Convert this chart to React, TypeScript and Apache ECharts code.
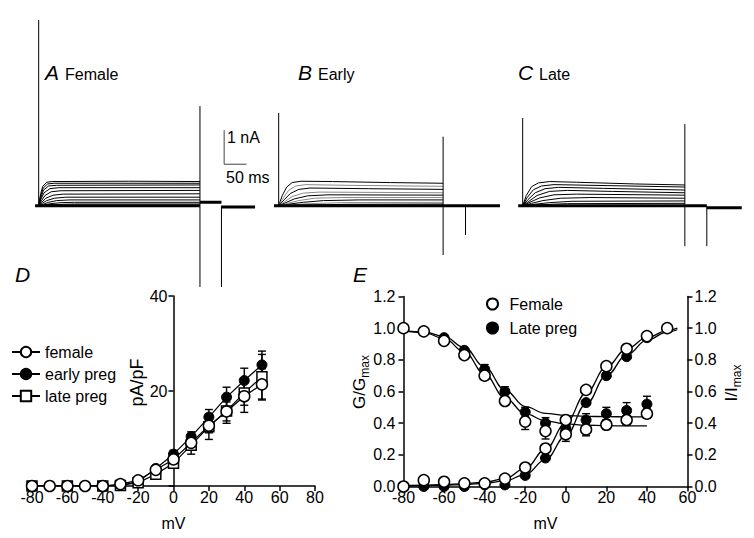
import React, { useEffect, useRef } from 'react';
import * as echarts from 'echarts';

const FONT = '"Liberation Sans", Arial, Helvetica, sans-serif';

// ---------- Panels A-C: current traces (t in ms, I in nA) ----------
const tracesA: number[][][] = [
  [[0, 0], [4, 0.32], [9, 0.57], [18, 0.69], [30, 0.71], [200, 0.72], [360, 0.71]],
  [[0, 0], [4, 0.28], [10, 0.52], [20, 0.64], [35, 0.66], [360, 0.66]],
  [[0, 0], [5, 0.24], [11, 0.46], [22, 0.58], [40, 0.6], [360, 0.61]],
  [[0, 0], [5, 0.19], [12, 0.38], [25, 0.5], [45, 0.53], [360, 0.53]],
  [[0, 0], [6, 0.14], [14, 0.3], [28, 0.41], [50, 0.44], [360, 0.45]],
  [[0, 0], [7, 0.1], [16, 0.22], [32, 0.31], [55, 0.34], [360, 0.35]],
  [[0, 0], [8, 0.07], [18, 0.15], [35, 0.22], [60, 0.25], [360, 0.25]],
  [[0, 0], [10, 0.04], [22, 0.1], [40, 0.15], [70, 0.17], [360, 0.17]],
  [[0, 0], [12, 0.02], [26, 0.06], [50, 0.09], [80, 0.1], [360, 0.1]],
  [[0, 0], [30, 0.03], [80, 0.05], [360, 0.05]],
];
const spikesA: number[][][] = [
  [[0, 0], [0, 5.46]],
  [[360, 2.93], [360, -2.39]],
  [[408, 0], [408, -2.39]],
];
const baseA: number[][][] = [
  [[-8, 0], [360, 0]],
  [[360, 0.1], [408, 0.1]],
  [[408, -0.04], [483, -0.04]],
];
const scaleBar: number[][] = [[414, 2.22], [414, 1.22], [464, 1.22]];

const tracesB: number[][][] = [
  [[0, 0], [8, 0.3], [18, 0.55], [30, 0.68], [50, 0.72], [120, 0.71], [250, 0.68], [367, 0.66]],
  [[0, 0], [10, 0.22], [22, 0.45], [38, 0.58], [60, 0.62], [150, 0.6], [367, 0.57]],
  [[0, 0], [12, 0.17], [26, 0.36], [45, 0.48], [70, 0.52], [200, 0.5], [367, 0.48]],
  [[0, 0], [14, 0.12], [30, 0.27], [55, 0.37], [90, 0.4], [367, 0.38]],
  [[0, 0], [16, 0.09], [35, 0.2], [65, 0.29], [110, 0.32], [367, 0.31]],
  [[0, 0], [20, 0.07], [45, 0.15], [80, 0.22], [140, 0.24], [367, 0.24]],
  [[0, 0], [25, 0.05], [55, 0.1], [100, 0.15], [180, 0.17], [367, 0.17]],
  [[0, 0], [30, 0.03], [70, 0.06], [140, 0.09], [367, 0.1]],
  [[0, 0], [60, 0.02], [150, 0.04], [367, 0.05]],
];
const spikesB: number[][][] = [
  [[0, 0], [0, 2.73]],
  [[367, 2.03], [367, -1.45]],
  [[417, 0], [417, -0.86]],
];
const baseB: number[][][] = [[[-10.5, 0], [494, 0]]];

const tracesC: number[][][] = [
  [[0, 0], [8, 0.3], [20, 0.56], [35, 0.67], [60, 0.71], [120, 0.69], [250, 0.64], [362, 0.61]],
  [[0, 0], [10, 0.24], [24, 0.47], [42, 0.58], [70, 0.62], [150, 0.6], [362, 0.55]],
  [[0, 0], [12, 0.18], [28, 0.38], [50, 0.5], [80, 0.54], [180, 0.51], [362, 0.46]],
  [[0, 0], [14, 0.13], [32, 0.3], [60, 0.42], [100, 0.45], [200, 0.42], [362, 0.38]],
  [[0, 0], [16, 0.1], [38, 0.23], [70, 0.32], [120, 0.34], [362, 0.31]],
  [[0, 0], [20, 0.07], [45, 0.15], [85, 0.22], [150, 0.24], [362, 0.22]],
  [[0, 0], [25, 0.04], [60, 0.09], [110, 0.13], [362, 0.14]],
  [[0, 0], [40, 0.03], [100, 0.06], [362, 0.07]],
];
const spikesC: number[][][] = [
  [[0, 0], [0, 2.58]],
  [[362, 2.4], [362, -1.19]],
  [[411, 0], [411, -1.19]],
];
const baseC: number[][][] = [
  [[-10, 0], [411, 0]],
  [[411, -0.06], [489, -0.06]],
];

// ---------- Panel D: I-V (pA/pF) ----------
const femaleV = [-80, -70, -60, -50, -40, -30, -20, -10, 0, 10, 20, 30, 40, 50];
const femaleIV = [0, 0, 0, 0, 0, 0.4, 1.2, 3.4, 5.6, 9.1, 12.7, 15.7, 18.9, 21.4];
const femaleIVErr = [0, 0, 0, 0, 0, 0, 0, 0.3, 0.6, 1.0, 1.5, 2.0, 3.4, 3.3];
const pregV = [-80, -60, -40, -30, -20, -10, 0, 10, 20, 30, 40, 50];
const earlyIV = [0, 0, 0, 0.2, 0.9, 3.7, 6.7, 10.4, 14.5, 18.7, 22.2, 25.5];
const earlyIVErr = [0, 0, 0, 0, 0, 0.3, 0.8, 1.0, 1.6, 2.1, 2.6, 2.9];
const lateIV = [0, 0, 0, 0.1, 0.7, 2.5, 4.8, 8.6, 12.5, 15.8, 19.6, 23.0];
const lateIVErr = [0, 0, 0, 0, 0, 0.5, 0.8, 1.9, 2.7, 2.6, 2.6, 4.7];
const ivTicks = [-80, -60, -40, -20, 0, 20, 40, 60, 80];

// ---------- Panel E: activation / inactivation ----------
const actV = [-80, -70, -60, -50, -40, -30, -20, -10, 0, 10, 20, 30, 40, 50];
const femaleAct = [0, 0.04, 0.03, 0.02, 0.02, 0.05, 0.12, 0.24, 0.33, 0.61, 0.76, 0.87, 0.95, 1.0];
const femaleActErr = [0, 0, 0, 0, 0, 0, 0.01, 0.02, 0.045, 0.01, 0, 0, 0, 0];
const lateActV = [-80, -70, -60, -50, -40, -30, -20, -10, 0, 10, 20, 30, 40];
const lateAct = [0, 0, 0, 0, 0.01, 0.01, 0.07, 0.18, 0.35, 0.53, 0.7, 0.82, 0.94];
const inactV = [-80, -70, -60, -50, -40, -30, -20, -10, 0, 10, 20, 30, 40];
const femaleInact = [1.0, 0.98, 0.92, 0.83, 0.7, 0.54, 0.41, 0.35, 0.42, 0.36, 0.39, 0.42, 0.46];
const femaleInactErr = [0, 0, 0, 0, 0, 0, 0.05, 0.05, 0.02, 0.04, 0.03, 0.03, 0.03];
const lateInact = [1.0, 0.98, 0.94, 0.86, 0.74, 0.6, 0.47, 0.4, 0.37, 0.42, 0.46, 0.48, 0.52];
const lateInactErr = [0, 0, 0, 0, 0.03, 0.03, 0.03, 0.035, 0.02, 0.04, 0.04, 0.05, 0.05];

const actFitV = [-80, -70, -60, -50, -40, -30, -20, -10, 0, 10, 20, 30, 40, 50, 55];
const femaleActFit = [0.005, 0.008, 0.012, 0.018, 0.027, 0.05, 0.115, 0.235, 0.4, 0.59, 0.755, 0.87, 0.94, 0.985, 1.0];
const lateActFit = [0.003, 0.005, 0.008, 0.012, 0.02, 0.035, 0.075, 0.17, 0.32, 0.52, 0.7, 0.83, 0.925, 0.975, 0.99];
const inactFitV = [-80, -70, -60, -50, -40, -30, -20, -10, 0, 10, 20, 30, 40];
const femaleInactFit = [0.985, 0.972, 0.935, 0.85, 0.71, 0.56, 0.46, 0.415, 0.395, 0.387, 0.384, 0.383, 0.383];
const lateInactFit = [0.985, 0.977, 0.948, 0.878, 0.755, 0.61, 0.505, 0.462, 0.448, 0.443, 0.441, 0.44, 0.44];

const zip = (xs: number[], ys: number[]) => xs.map((x, i) => [x, ys[i]]);
const zip3 = (xs: number[], ys: number[], es: number[]) =>
  xs.map((x, i) => [x, ys[i], es[i]]).filter((d) => d[2] > 0);

const errRender = (cap: number) => (params: any, api: any) => {
  const x = api.value(0);
  const y = api.value(1);
  const e = api.value(2);
  const t = api.coord([x, y + e]);
  const b = api.coord([x, y - e]);
  const st = { stroke: '#000', lineWidth: 1.4 };
  return {
    type: 'group',
    children: [
      { type: 'line', shape: { x1: t[0], y1: t[1], x2: b[0], y2: b[1] }, style: st },
      { type: 'line', shape: { x1: t[0] - cap, y1: t[1], x2: t[0] + cap, y2: t[1] }, style: st },
      { type: 'line', shape: { x1: b[0] - cap, y1: b[1], x2: b[0] + cap, y2: b[1] }, style: st },
    ],
  };
};

const App: React.FC = () => {
  const ref = useRef<HTMLDivElement>(null);
  useEffect(() => {
    document.body.style.margin = '0';
    const chart = echarts.init(ref.current!, null, { renderer: 'svg' });

    const traceSeries: any[] = [];
    const addLines = (sets: number[][][], idx: number, width: number, colorFn?: (i: number) => string) => {
      sets.forEach((d, i) => {
        traceSeries.push({
          type: 'line', xAxisIndex: idx, yAxisIndex: idx, data: d, symbol: 'none', silent: true,
          lineStyle: { color: colorFn ? colorFn(i) : '#000', width }, z: 2,
        });
      });
    };
    addLines(tracesA, 0, 1);
    addLines(baseA, 0, 3);
    addLines(spikesA, 0, 1);
    addLines([scaleBar], 0, 1, () => '#444');
    addLines(tracesB, 1, 1, (i) => (i % 2 === 1 ? '#8a8a8a' : '#000'));
    addLines(baseB, 1, 3);
    addLines(spikesB, 1, 1);
    addLines(tracesC, 2, 1);
    addLines(baseC, 2, 3);
    addLines(spikesC, 2, 1);

    const axisCommon = {
      axisLine: { lineStyle: { color: '#000', width: 1.5 } },
      axisTick: { length: 5, lineStyle: { color: '#000', width: 1.5 } },
      splitLine: { show: false },
      axisLabel: { color: '#000', fontSize: 16, fontFamily: FONT },
    };
    const hiddenY = (i: number) => ({ type: 'value', gridIndex: i, min: -3, max: 6, show: false });

    const openItem = { color: '#fff', borderColor: '#000', borderWidth: 1.5, opacity: 1 };
    const filledItem = { color: '#000', borderColor: '#000', borderWidth: 1, opacity: 1 };

    const option: any = {
      animation: false,
      backgroundColor: '#fff',
      textStyle: { fontFamily: FONT },
      grid: [
        { left: 34.2, top: 1.7, width: 224, height: 306 },
        { left: 274.2, top: 1.7, width: 228.5, height: 306 },
        { left: 518.2, top: 1.7, width: 224, height: 306 },
        { left: 32, top: 296, width: 283, height: 190 },
        { left: 403.5, top: 296.5, width: 284, height: 190 },
      ],
      xAxis: [
        { type: 'value', gridIndex: 0, min: -10, max: 490, show: false },
        { type: 'value', gridIndex: 1, min: -10, max: 500, show: false },
        { type: 'value', gridIndex: 2, min: -10, max: 490, show: false },
        {
          type: 'value', gridIndex: 3, min: ivTicks[0], max: ivTicks[ivTicks.length - 1], interval: 20,
          ...axisCommon,
          axisLabel: { ...axisCommon.axisLabel, margin: 3 },
          name: 'mV', nameLocation: 'middle', nameGap: 29,
          nameTextStyle: { color: '#000', fontSize: 16, fontFamily: FONT },
        },
        {
          type: 'value', gridIndex: 4, min: -80, max: 60, interval: 20,
          ...axisCommon,
          axisLabel: { ...axisCommon.axisLabel, margin: 3 },
          axisLine: { ...axisCommon.axisLine, onZero: false },
          name: 'mV', nameLocation: 'middle', nameGap: 29,
          nameTextStyle: { color: '#000', fontSize: 16, fontFamily: FONT },
        },
      ],
      yAxis: [
        hiddenY(0), hiddenY(1), hiddenY(2),
        {
          type: 'value', gridIndex: 3, min: 0, max: 40, interval: 20, position: 'left', offset: -141.5,
          ...axisCommon,
          axisLine: { ...axisCommon.axisLine, onZero: false },
          axisLabel: { ...axisCommon.axisLabel, margin: 6, formatter: (v: number) => (v === 0 ? '' : String(v)) },
        },
        {
          type: 'value', gridIndex: 4, min: 0, max: 1.2, interval: 0.2, position: 'left',
          ...axisCommon,
          axisLine: { ...axisCommon.axisLine, onZero: false },
          axisLabel: { ...axisCommon.axisLabel, margin: 8, formatter: (v: number) => v.toFixed(1) },
        },
        {
          type: 'value', gridIndex: 4, min: 0, max: 1.2, interval: 0.2, position: 'right',
          ...axisCommon,
          axisLine: { ...axisCommon.axisLine, onZero: false },
          axisLabel: { ...axisCommon.axisLabel, margin: 7, formatter: (v: number) => v.toFixed(1) },
        },
      ],
      legend: [
        {
          data: ['female', 'early preg', 'late preg'],
          orient: 'vertical', left: 11, top: 344, padding: 0, itemWidth: 28, itemHeight: 13, itemGap: 6,
          textStyle: { color: '#000', fontSize: 16, fontFamily: FONT },
          selectedMode: false,
        },
        {
          data: ['Female', 'Late preg'],
          orient: 'vertical', left: 486, top: 296, padding: 0, itemWidth: 24, itemHeight: 11, itemGap: 8,
          textStyle: { color: '#000', fontSize: 16, fontFamily: FONT },
          selectedMode: false,
        },
      ],
      series: [
        ...traceSeries,
        // Panel D error bars
        { type: 'custom', xAxisIndex: 3, yAxisIndex: 3, renderItem: errRender(4), data: zip3(pregV, earlyIV, earlyIVErr), encode: { x: 0, y: 1 }, z: 3, silent: true },
        { type: 'custom', xAxisIndex: 3, yAxisIndex: 3, renderItem: errRender(4), data: zip3(pregV, lateIV, lateIVErr), encode: { x: 0, y: 1 }, z: 3, silent: true },
        { type: 'custom', xAxisIndex: 3, yAxisIndex: 3, renderItem: errRender(4), data: zip3(femaleV, femaleIV, femaleIVErr), encode: { x: 0, y: 1 }, z: 3, silent: true },
        {
          name: 'early preg', type: 'line', xAxisIndex: 3, yAxisIndex: 3, data: zip(pregV, earlyIV),
          symbol: 'circle', symbolSize: 10, itemStyle: filledItem, lineStyle: { color: '#000', width: 1.2 }, z: 4,
        },
        {
          name: 'late preg', type: 'line', xAxisIndex: 3, yAxisIndex: 3, data: zip(pregV, lateIV),
          symbol: 'rect', symbolSize: 10, itemStyle: openItem, lineStyle: { color: '#000', width: 1.2 }, z: 5,
        },
        {
          name: 'female', type: 'line', xAxisIndex: 3, yAxisIndex: 3, data: zip(femaleV, femaleIV),
          symbol: 'circle', symbolSize: 11, itemStyle: openItem, lineStyle: { color: '#000', width: 1.2 }, z: 6,
        },
        // Panel E fits
        ...[femaleActFit, lateActFit].map((f) => ({
          type: 'line', xAxisIndex: 4, yAxisIndex: 4, data: zip(actFitV, f), symbol: 'none', smooth: 0.4,
          smoothMonotone: 'x', lineStyle: { color: '#000', width: 1.3 }, z: 2, silent: true,
        })),
        ...[femaleInactFit, lateInactFit].map((f) => ({
          type: 'line', xAxisIndex: 4, yAxisIndex: 4, data: zip(inactFitV, f), symbol: 'none', smooth: 0.4,
          smoothMonotone: 'x', lineStyle: { color: '#000', width: 1.3 }, z: 2, silent: true,
        })),
        // Panel E error bars
        { type: 'custom', xAxisIndex: 4, yAxisIndex: 4, renderItem: errRender(4), data: [...zip3(inactV, lateInact, lateInactErr)], encode: { x: 0, y: 1 }, z: 3, silent: true },
        { type: 'custom', xAxisIndex: 4, yAxisIndex: 4, renderItem: errRender(4), data: [...zip3(inactV, femaleInact, femaleInactErr), ...zip3(actV, femaleAct, femaleActErr)], encode: { x: 0, y: 1 }, z: 3, silent: true },
        {
          name: 'Late preg', type: 'scatter', xAxisIndex: 4, yAxisIndex: 4,
          data: [...zip(lateActV, lateAct), ...zip(inactV, lateInact)],
          symbol: 'circle', symbolSize: 10, itemStyle: filledItem, z: 4,
        },
        {
          name: 'Female', type: 'scatter', xAxisIndex: 4, yAxisIndex: 4,
          data: [...zip(actV, femaleAct), ...zip(inactV, femaleInact)],
          symbol: 'circle', symbolSize: 11, itemStyle: openItem, z: 5,
        },
      ],
      graphic: [
        { type: 'text', x: 45, y: 72.6, style: { text: 'A', font: `italic 21px ${FONT}`, fill: '#000', verticalAlign: 'middle' } },
        { type: 'text', x: 65, y: 74.4, style: { text: 'Female', font: `16px ${FONT}`, fill: '#000', verticalAlign: 'middle' } },
        { type: 'text', x: 298, y: 72.6, style: { text: 'B', font: `italic 21px ${FONT}`, fill: '#000', verticalAlign: 'middle' } },
        { type: 'text', x: 318, y: 74.4, style: { text: 'Early', font: `16px ${FONT}`, fill: '#000', verticalAlign: 'middle' } },
        { type: 'text', x: 518, y: 72.6, style: { text: 'C', font: `italic 21px ${FONT}`, fill: '#000', verticalAlign: 'middle' } },
        { type: 'text', x: 539, y: 74.4, style: { text: 'Late', font: `16px ${FONT}`, fill: '#000', verticalAlign: 'middle' } },
        { type: 'text', x: 227, y: 137, style: { text: '1 nA', font: `16px ${FONT}`, fill: '#000', verticalAlign: 'middle' } },
        { type: 'text', x: 226, y: 177, style: { text: '50 ms', font: `16px ${FONT}`, fill: '#000', verticalAlign: 'middle' } },
        { type: 'text', x: 15, y: 274, style: { text: 'D', font: `italic 21px ${FONT}`, fill: '#000', verticalAlign: 'middle' } },
        { type: 'text', x: 353, y: 274, style: { text: 'E', font: `italic 21px ${FONT}`, fill: '#000', verticalAlign: 'middle' } },
        {
          type: 'text', x: 136.5, y: 382.5, rotation: Math.PI / 2,
          style: { text: 'pA/pF', font: `18px ${FONT}`, fill: '#000', align: 'center', verticalAlign: 'middle' },
        },
        {
          type: 'text', x: 361, y: 382, rotation: Math.PI / 2,
          style: {
            text: '{n|G/G}{s|max}', fill: '#000', align: 'center', verticalAlign: 'middle',
            rich: {
              n: { fontSize: 17, fontFamily: FONT, lineHeight: 20, verticalAlign: 'top', fill: '#000' },
              s: { fontSize: 12, fontFamily: FONT, lineHeight: 12, verticalAlign: 'bottom', fill: '#000' },
            },
          },
        },
        {
          type: 'text', x: 733, y: 383, rotation: Math.PI / 2,
          style: {
            text: '{n|I/I}{s|max}', fill: '#000', align: 'center', verticalAlign: 'middle',
            rich: {
              n: { fontSize: 17, fontFamily: FONT, lineHeight: 20, verticalAlign: 'top', fill: '#000' },
              s: { fontSize: 12, fontFamily: FONT, lineHeight: 12, verticalAlign: 'bottom', fill: '#000' },
            },
          },
        },
      ],
    };
    chart.setOption(option);
    return () => chart.dispose();
  }, []);
  return <div ref={ref} style={{ position: 'absolute', left: 0, top: 0, width: 754, height: 538 }} />;
};

export default App;
